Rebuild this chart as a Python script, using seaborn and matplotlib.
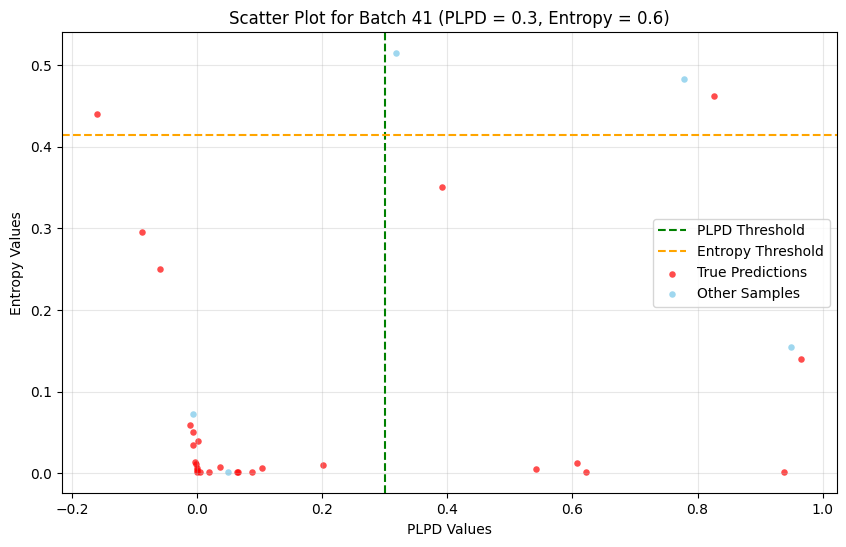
import numpy as np
import pandas as pd
import matplotlib
matplotlib.use("Agg")
import matplotlib.pyplot as plt
import seaborn as sns

# threshold values
plpd_threshold = 0.3
entropy_threshold = 0.415

# true predictions (red)
true_plpd = [-0.160, -0.088, -0.059, -0.011, -0.006, -0.006, 0.002,
             -0.003, -0.002, 0.000, 0.000, 0.000, 0.005, 0.019, 0.037,
             0.064, 0.066, 0.088, 0.104, 0.202, 0.392, 0.542, 0.608,
             0.621, 0.826, 0.938, 0.966]
true_entropy = [0.440, 0.296, 0.250, 0.059, 0.050, 0.035, 0.040,
                0.014, 0.011, 0.007, 0.004, 0.001, 0.001, 0.002, 0.008,
                0.002, 0.002, 0.001, 0.006, 0.010, 0.351, 0.005, 0.012,
                0.002, 0.462, 0.002, 0.140]

# other samples (blue)
other_plpd = [-0.006, 0.050, 0.318, 0.779, 0.950]
other_entropy = [0.073, 0.001, 0.515, 0.483, 0.155]

true_df = pd.DataFrame({'plpd': true_plpd, 'entropy': true_entropy})
other_df = pd.DataFrame({'plpd': other_plpd, 'entropy': other_entropy})

fig, ax = plt.subplots(figsize=(8.46, 5.47), dpi=100)
fig.subplots_adjust(left=0.073, right=0.989, top=0.9415, bottom=0.098)

ax.axvline(plpd_threshold, color='green', linestyle='--', label='PLPD Threshold')
ax.axhline(entropy_threshold, color='orange', linestyle='--', label='Entropy Threshold')

sns.scatterplot(data=true_df, x='plpd', y='entropy', color='red', alpha=0.7,
                s=22, linewidth=0, label='True Predictions', ax=ax)
sns.scatterplot(data=other_df, x='plpd', y='entropy', color='skyblue', alpha=0.8,
                s=22, linewidth=0, label='Other Samples', ax=ax)

ax.set_title('Scatter Plot for Batch 41 (PLPD = 0.3, Entropy = 0.6)')
ax.set_xlabel('PLPD Values')
ax.set_ylabel('Entropy Values')
ax.grid(True, alpha=0.3)
ax.legend(loc='center right')

plt.savefig('out.png')
plt.close()
